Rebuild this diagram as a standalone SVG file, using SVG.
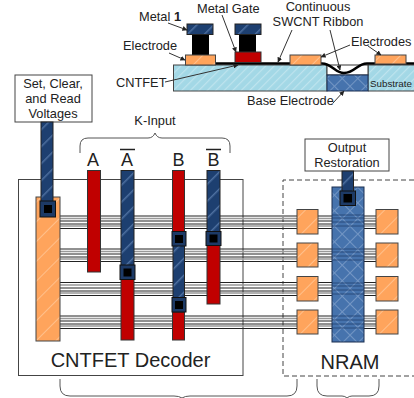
<svg xmlns="http://www.w3.org/2000/svg" width="414" height="398" viewBox="0 0 414 398">
<style>
text{font-family:"Liberation Sans",Arial,sans-serif;fill:#222;font-size:12.800px}
.m{text-anchor:middle}
.big{font-size:20px}
.ltr{font-size:18px;text-anchor:middle}
.or{fill:url(#po);stroke:#444;stroke-width:1}
.bl{fill:url(#pb);stroke:#222;stroke-width:1}
.rd{fill:#c00000;stroke:#333;stroke-width:1}
.lb{fill:url(#pl);stroke:#1a2f50;stroke-width:1}
.box{fill:#fff;stroke:#444;stroke-width:1}
.ln{fill:none;stroke:#333;stroke-width:1}
.br{fill:none;stroke:#555;stroke-width:1}
.vo{fill:#1d3a66;stroke:#111;stroke-width:1}
.w1{stroke:#222;stroke-width:1;fill:none}
.w2{stroke:#999;stroke-width:1.500;fill:none}
</style>
<defs>
<pattern id="po" width="14" height="14" patternUnits="userSpaceOnUse" patternTransform="rotate(45)"><rect width="14" height="14" fill="#ffa45c"/><rect width="1" height="14" fill="#ffc08c"/></pattern>
<pattern id="pb" width="12" height="12" patternUnits="userSpaceOnUse" patternTransform="rotate(-45)"><rect width="12" height="12" fill="#1d3f70"/><rect width="12" height="1.500" fill="#4d6f9f"/></pattern>
<pattern id="ps" width="6" height="6" patternUnits="userSpaceOnUse" patternTransform="rotate(45)"><rect width="6" height="6" fill="#a3d8e6"/><rect width="1.200" height="6" fill="#bfe4ee"/></pattern>
<pattern id="pl" width="11" height="11" patternUnits="userSpaceOnUse" patternTransform="rotate(45)"><rect width="11" height="11" fill="#4673ad"/><rect width="1" height="11" fill="#7396c4"/><rect width="11" height="1" fill="#7396c4"/></pattern>
<marker id="ah" viewBox="0 0 6 6" refX="5.500" refY="3" markerWidth="5" markerHeight="5" orient="auto"><path d="M0 0L6 3L0 6z" fill="#222"/></marker>
</defs>

<g id="substrate">
<rect x="173.500" y="65" width="153.500" height="26" fill="url(#ps)" stroke="#444"/>
<path d="M414 65H368V91H414" fill="url(#ps)" stroke="#444"/>
</g>
<g id="base-electrode">
<rect x="327" y="65" width="41" height="10" fill="#fff" stroke="#333"/>
<rect x="327" y="75" width="41" height="16" class="lb" stroke="#222"/>
</g>
<g id="ribbon">
<path d="M215 63.500H322C332 63.500 335 73 344 73C355 73 357 63.500 367 63.500H414" fill="none" stroke="#000" stroke-width="2.500"/>
</g>
<g id="cntfet-left">
<rect x="192" y="33" width="17" height="23" fill="#000"/>
<rect x="187" y="24" width="26" height="10.500" class="bl"/>
<rect x="185.500" y="55" width="30" height="10" class="or"/>
</g>
<g id="cntfet-gate">
<rect x="239" y="33" width="17" height="20" fill="#000"/>
<rect x="235" y="24" width="26" height="10.500" class="bl"/>
<rect x="235" y="52" width="26" height="10.500" class="rd"/>
</g>
<g id="electrodes-top">
<rect x="290" y="55" width="31" height="10" class="or"/>
<rect x="375" y="55" width="31" height="9" class="or"/>
</g>
<g id="labels-top">
<text x="139" y="21">Metal</text><text x="174" y="21" font-weight="bold">1</text>
<text x="197" y="13">Metal Gate</text>
<text x="318" y="11" class="m">Continuous</text>
<text x="318" y="26" class="m">SWCNT Ribbon</text>
<text x="123" y="50">Electrode</text>
<text x="351" y="46">Electrodes</text>
<text x="116" y="87">CNTFET</text>
<text x="370" y="87" style="font-size:9.800px">Substrate</text>
<text x="247" y="105">Base Electrode</text>
</g>
<g id="connectors-top">
<path class="ln" d="M168 23L187 30" marker-end="url(#ah)"/>
<path class="ln" d="M222 15L236 52" marker-end="url(#ah)"/>
<path class="ln" d="M292 30L278 62" marker-end="url(#ah)"/>
<path class="ln" d="M330 30L340 70" marker-end="url(#ah)"/>
<path class="ln" d="M169 53L185 60" marker-end="url(#ah)"/>
<path class="ln" d="M350 45L321 57" marker-end="url(#ah)"/>
<path class="ln" d="M368 46L381 55" marker-end="url(#ah)"/>
<path class="ln" d="M165 82L238 65" marker-end="url(#ah)"/>
<path class="ln" d="M333 103L344 91" marker-end="url(#ah)"/>
</g>

<g id="decoder-box"><rect x="18.500" y="179.500" width="224.500" height="196" fill="#fff" stroke="#444"/></g>
<g id="nram-box"><path d="M414 180H283V376H414" fill="none" stroke="#444" stroke-dasharray="5 3"/></g>

<g id="connectors">
<g id="wires">
<path class="w2" d="M60 218.500H376M60 226H376M60 251.500H376M60 259H376M60 285H376M60 293H376M60 318.500H376M60 326H376"/>
<path class="w1" d="M60 216H376M60 221H376M60 224H376M60 228.500H376M60 249H376M60 254H376M60 257H376M60 261.500H376M60 282.500H376M60 288H376M60 291H376M60 295.500H376M60 316H376M60 321H376M60 324H376M60 328.500H376"/>
</g>
<path class="br" d="M80 153V146Q80 138 88 138H148Q153 138 155 133Q157 138 162 138H222Q230 138 230 146V153"/>
<path class="br" d="M60 379V386Q60 396 70 396H174Q179 396 182 398Q185 396 190 396H287Q297 396 297 386V379"/>
<path class="br" d="M317 379V386Q317 396 327 396H342Q345 396 347 398Q349 396 352 396H369Q379 396 379 386V379"/>
</g>

<g id="set-voltages">
<rect x="15" y="75" width="77" height="47" class="box"/>
<text x="53" y="87.500" class="m">Set, Clear,</text>
<text x="53" y="103" class="m">and Read</text>
<text x="53" y="118" class="m">Voltages</text>
<rect x="36" y="197" width="24" height="144" class="or"/>
<rect x="41" y="122" width="12" height="84" class="bl"/>
<rect x="40" y="201" width="15.500" height="16" class="vo"/><rect x="44" y="205" width="8" height="8" fill="#000"/>
</g>
<g id="input-a">
<text x="93" y="166" class="ltr">A</text>
<rect x="87.500" y="170.500" width="13" height="101.500" class="rd"/>
</g>
<g id="input-a-bar">
<text x="127" y="166" class="ltr">A</text><path d="M120 149.500H135" stroke="#222" stroke-width="1.500"/>
<rect x="121" y="170.500" width="13" height="105" class="bl"/>
<rect x="121" y="279" width="13" height="61" class="rd"/>
<rect x="120" y="265" width="15" height="14.500" class="vo"/><rect x="123.500" y="268.500" width="8" height="8" fill="#000"/>
</g>
<g id="input-b">
<text x="178.500" y="166" class="ltr">B</text>
<rect x="172.500" y="170.500" width="12" height="61" class="rd"/>
<rect x="173" y="240" width="11.500" height="60" class="bl"/>
<rect x="172.500" y="312" width="12" height="28" class="rd"/>
<rect x="172" y="231.500" width="14" height="14.500" class="vo"/><rect x="175" y="235" width="8" height="8" fill="#000"/>
<rect x="172" y="297.500" width="14" height="14.500" class="vo"/><rect x="175" y="301" width="8" height="8" fill="#000"/>
</g>
<g id="input-b-bar">
<text x="213.500" y="166" class="ltr">B</text><path d="M206 149.500H221" stroke="#222" stroke-width="1.500"/>
<rect x="207" y="170.500" width="13" height="62" class="bl"/>
<rect x="207" y="245" width="13" height="59" class="rd"/>
<rect x="206" y="231.500" width="15" height="14" class="vo"/><rect x="209.500" y="234.500" width="8" height="8" fill="#000"/>
</g>
<g id="nram">
<rect x="332" y="187" width="32" height="155" class="lb"/>
<path d="M332 215H364M332 218H364M332 222H364M332 226H364M332 249H364M332 252H364M332 256H364M332 260H364M332 283H364M332 286H364M332 290H364M332 294H364M332 316H364M332 320H364M332 324H364M332 328H364" stroke="#1d3a66" stroke-width="1" opacity="0.7" fill="none"/>
<rect x="305" y="139" width="84" height="32" class="box"/>
<text x="347" y="152" class="m">Output</text>
<text x="347" y="166.500" class="m">Restoration</text>
<rect x="342" y="171" width="11.500" height="21" class="bl"/>
<rect x="340" y="191" width="15.500" height="14.500" class="vo"/><rect x="343.500" y="194" width="8.500" height="8.500" fill="#000"/>
<text x="350" y="369" class="m" style="font-size:20px">NRAM</text>
</g>
<g id="pads">
<rect x="297" y="209.500" width="21" height="24.500" class="or"/>
<rect x="297" y="243" width="21" height="24" class="or"/>
<rect x="297" y="276.500" width="21" height="24.500" class="or"/>
<rect x="297" y="310" width="21" height="24" class="or"/>
<rect x="376" y="209.500" width="22" height="24.500" class="or"/>
<rect x="376" y="243" width="22" height="24" class="or"/>
<rect x="376" y="276.500" width="22" height="24.500" class="or"/>
<rect x="376" y="310" width="22" height="24" class="or"/>
</g>
<g id="decoder-label">
<text x="130.500" y="366.500" class="m big">CNTFET Decoder</text>
<text x="155" y="125" class="m">K-Input</text>
</g>
</svg>
